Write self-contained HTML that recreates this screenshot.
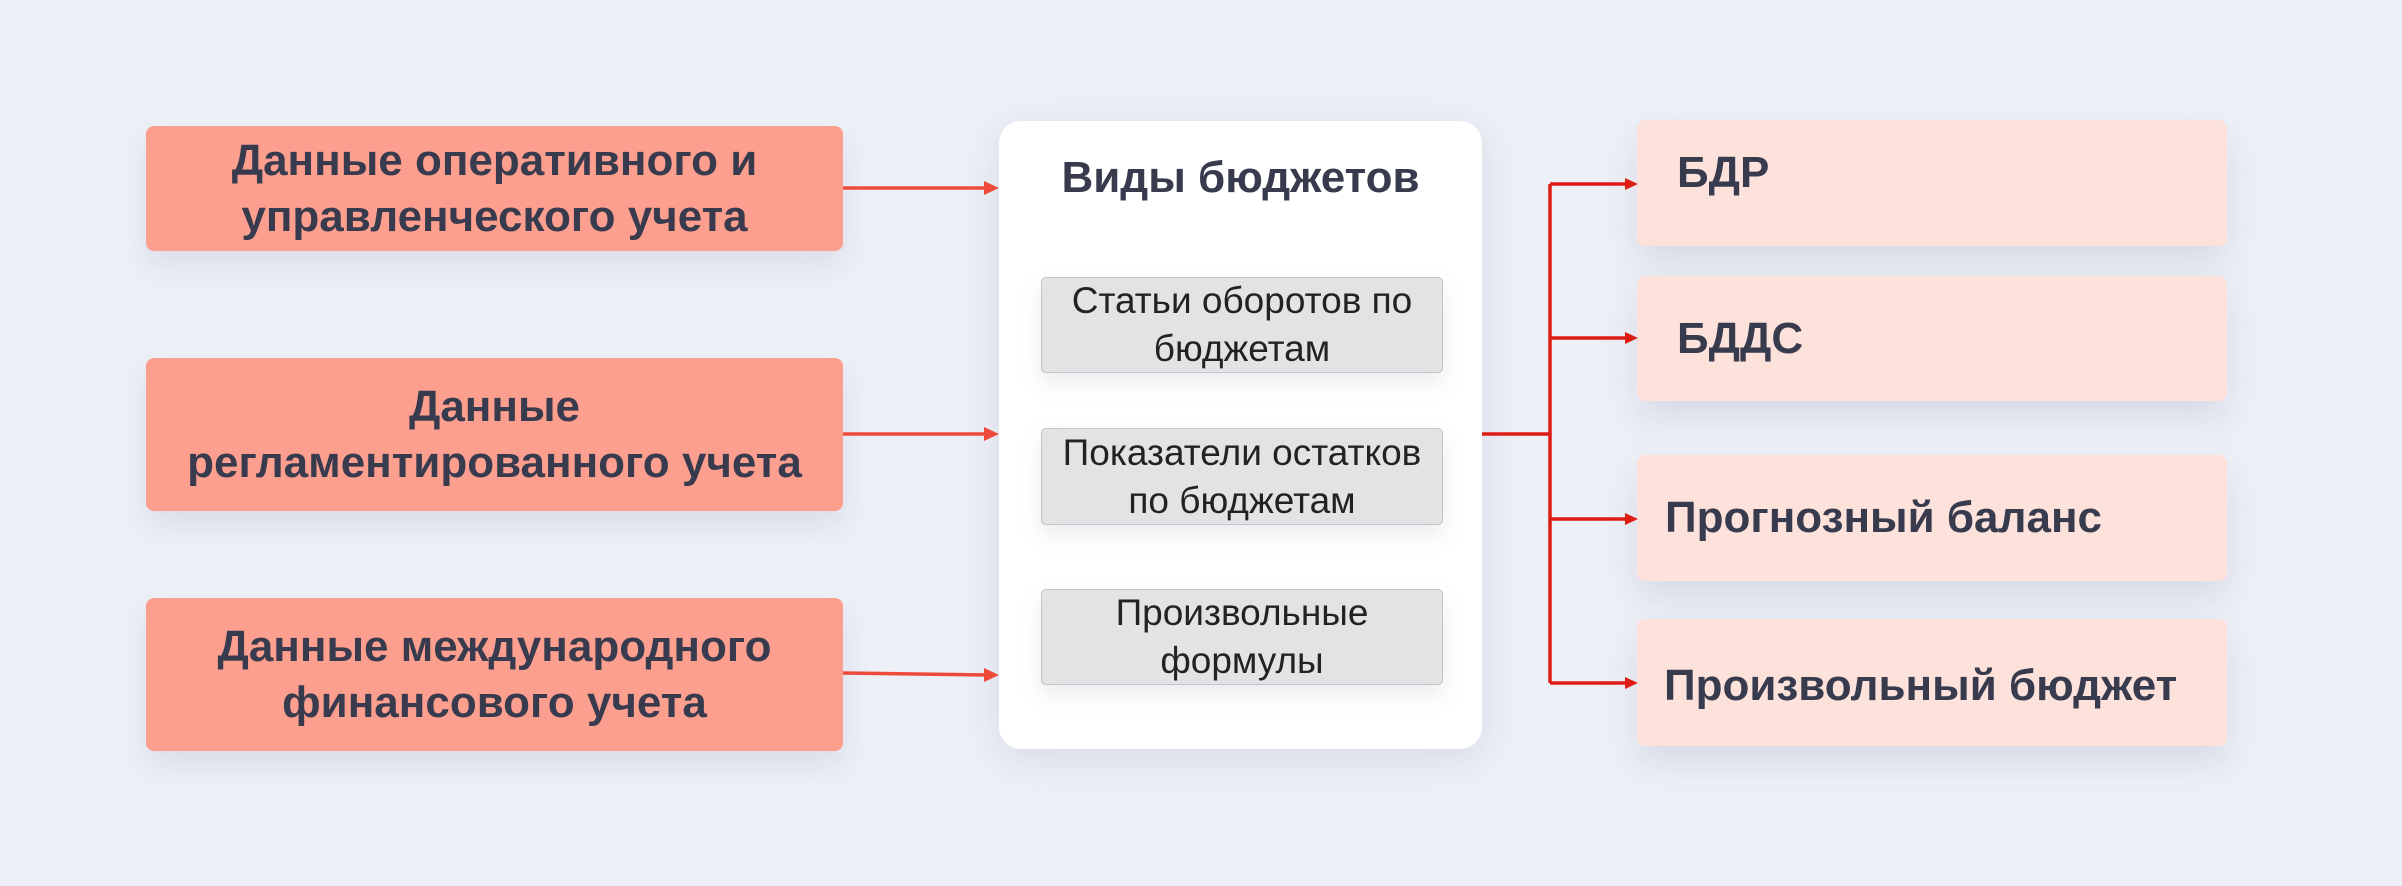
<!DOCTYPE html>
<html><head><meta charset="utf-8"><style>
body{margin:0;width:2402px;height:886px;background:#eef0f7;position:relative;overflow:hidden;font-family:"Liberation Sans","DejaVu Sans",sans-serif;color:#383b4e}
.b{position:absolute;display:flex;align-items:center;justify-content:center;text-align:center;box-sizing:border-box}
.l{left:146px;width:697px;background:#fd9f8f;border-radius:8px;font-weight:bold;font-size:44px;line-height:56px;box-shadow:0 14px 30px rgba(160,165,190,.25)}
.r{left:1637px;width:590px;background:#fde2dc;border-radius:8px;font-weight:bold;font-size:44px;justify-content:flex-start;box-shadow:0 16px 34px rgba(160,165,190,.3)}
.i{left:1041px;width:402px;background:#e3e3e5;border:1.5px solid #c4c4c8;border-radius:5px;font-size:37px;line-height:48px;color:#222;box-shadow:0 10px 22px rgba(150,150,170,.18)}
</style></head><body>
<div class="b l" style="top:126px;height:125px">Данные оперативного и<br>управленческого учета</div>
<div class="b l" style="top:358px;height:153px">Данные<br>регламентированного учета</div>
<div class="b l" style="top:598px;height:153px">Данные международного<br>финансового учета</div>
<div style="position:absolute;left:999px;top:121px;width:483px;height:628px;background:#fff;border-radius:22px;box-shadow:0 10px 40px rgba(160,165,190,.3)"></div>
<div class="b" style="left:999px;top:150px;width:483px;height:56px;font-weight:bold;font-size:44px">Виды бюджетов</div>
<div class="b i" style="top:277px;height:96px">Статьи оборотов по<br>бюджетам</div>
<div class="b i" style="top:428px;height:97px">Показатели остатков<br>по бюджетам</div>
<div class="b i" style="top:589px;height:96px">Произвольные<br>формулы</div>
<div class="b r" style="top:120px;height:126px;padding-left:40px;padding-bottom:20px">БДР</div>
<div class="b r" style="top:276px;height:125px;padding-left:40px">БДДС</div>
<div class="b r" style="top:455px;height:126px;padding-left:28px">Прогнозный баланс</div>
<div class="b r" style="top:619px;height:127px;padding-left:27px;padding-top:6px">Произвольный бюджет</div>
<svg width="2402" height="886" style="position:absolute;left:0;top:0">
<g stroke="#ee4a3a" stroke-width="3.5" fill="#ee4a3a">
<line x1="843" y1="188" x2="988" y2="188"/><polygon points="999,188 984,181 984,195" stroke="none"/>
<line x1="843" y1="434" x2="988" y2="434"/><polygon points="999,434 984,427 984,441" stroke="none"/>
<line x1="843" y1="673" x2="988" y2="675"/><polygon points="999,675 984,668 984,682" stroke="none"/>
</g>
<g stroke="#dd1d14" stroke-width="3.5" fill="#dd1d14">
<line x1="1482" y1="434" x2="1550" y2="434"/>
<line x1="1550" y1="184" x2="1550" y2="683"/>
<line x1="1550" y1="184" x2="1628" y2="184"/><polygon points="1638,184 1625,178 1625,190" stroke="none"/>
<line x1="1550" y1="338" x2="1628" y2="338"/><polygon points="1638,338 1625,332 1625,344" stroke="none"/>
<line x1="1550" y1="519" x2="1628" y2="519"/><polygon points="1638,519 1625,513 1625,525" stroke="none"/>
<line x1="1550" y1="683" x2="1628" y2="683"/><polygon points="1638,683 1625,677 1625,689" stroke="none"/>
</g>
</svg>
</body></html>
